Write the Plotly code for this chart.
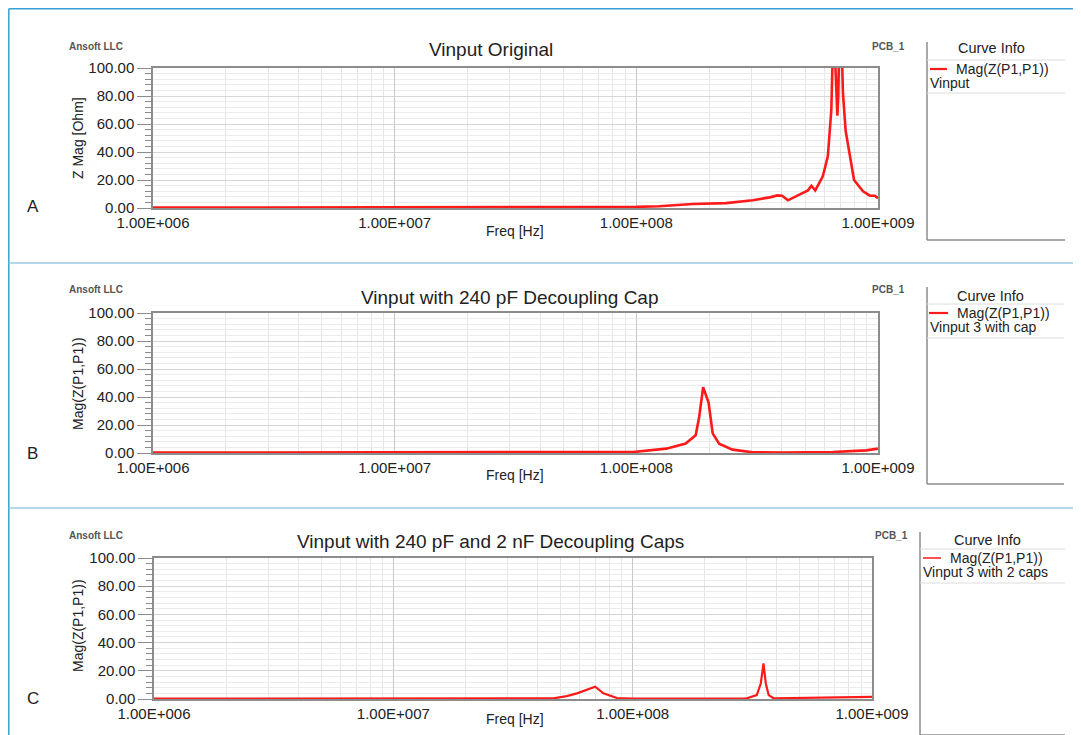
import plotly.graph_objects as go

# page body has an 8px margin: the figure is drawn 8px smaller and all
# reference pixel positions are shifted by OFF
OFF = 8
W, H = 1081 - OFF, 735 - OFF

# ---------------- data ----------------
freq_ticks = [1e6, 1e7, 1e8, 1e9]
freq_tick_labels = ["1.00E+006", "1.00E+007", "1.00E+008", "1.00E+009"]
mag_ticks = [0, 20, 40, 60, 80, 100]
mag_tick_labels = ["0.00", "20.00", "40.00", "60.00", "80.00", "100.00"]

a_freq = [1e6, 3e6, 1e7, 3e7, 6e7, 1.0e8, 1.24e8, 1.71e8, 2.35e8, 3.03e8, 3.56e8,
          3.84e8, 4.01e8, 4.24e8, 4.73e8, 5.13e8, 5.3e8, 5.5e8, 5.91e8, 6.2e8,
          6.41e8, 6.5e8, 6.55e8, 6.65e8, 6.73e8, 6.79e8, 6.85e8, 6.89e8, 6.95e8,
          7.08e8, 7.16e8, 7.35e8, 7.64e8, 7.96e8, 8.67e8, 9.25e8, 9.7e8, 1e9]
a_mag = [0.3, 0.3, 0.35, 0.45, 0.6, 0.8, 1.2, 2.9, 3.5, 5.5, 7.6,
         9.0, 8.8, 5.5, 9.5, 12.6, 15.9, 12.6, 22.6, 36.9,
         70, 100, 135, 105, 75, 66, 80, 100, 140,
         115, 82, 55, 37, 20, 11.9, 8.8, 8.8, 7.0]

b_freq = [1e6, 1e7, 4.1e7, 9.7e7, 1.33e8, 1.6e8, 1.76e8, 1.82e8, 1.89e8, 1.99e8,
          2.07e8, 2.2e8, 2.5e8, 3.03e8, 4.03e8, 6.5e8, 8.95e8, 1e9]
b_mag = [0.3, 0.3, 0.3, 0.7, 3.1, 6.7, 12.6, 25.7, 47, 36,
         14, 6.7, 2.4, 0.5, 0.3, 0.7, 1.9, 3.1]

c_freq = [1e6, 1e7, 4.67e7, 5.3e7, 5.85e7, 6.97e7, 7.55e7, 8.6e7, 1e8, 3e8,
          3.3e8, 3.43e8, 3.52e8, 3.6e8, 3.7e8, 3.88e8, 8.4e8, 1e9]
c_mag = [0.3, 0.3, 0.5, 2.0, 4.0, 8.7, 4.0, 0.7, 0.3, 0.5,
         2.8, 11, 25.2, 11, 2.8, 0.5, 1.0, 1.5]

panel_titles = ["Vinput Original", "Vinput with 240 pF Decoupling Cap",
                "Vinput with 240 pF and 2 nF Decoupling Caps"]
y_titles = ["Z Mag [Ohm]", "Mag(Z(P1,P1))", "Mag(Z(P1,P1))"]
curve_names = ["Mag(Z(P1,P1))", "Mag(Z(P1,P1))", "Mag(Z(P1,P1))"]
curve_desc = ["Vinput", "Vinput 3 with cap", "Vinput 3 with 2 caps"]
panel_letters = ["A", "B", "C"]

# ---------------- layout helpers ----------------
def px(x):
    return (x - OFF) / W

def py(y):
    return 1 - (y - OFF) / H

FONT = "Liberation Sans, Arial, sans-serif"
TXT = "#222222"
RED = "#ff1a1a"
AX = "#8c8c8c"

# plot rectangles in page pixels: (x0, x1, ytop, ybottom)
rects = [(153, 878, 68, 208), (153, 878, 313, 453), (154, 872, 558, 699)]

minor_freq = [m * 10 ** e for e in range(6, 9) for m in range(2, 10)]

fig = go.Figure()
series = [(a_freq, a_mag, 2.6), (b_freq, b_mag, 2.6), (c_freq, c_mag, 2.2)]
for i, (fx, fy, lw) in enumerate(series):
    sfx = "" if i == 0 else str(i + 1)
    fig.add_trace(go.Scatter(x=fx, y=fy, mode="lines",
                             line=dict(color=RED, width=lw),
                             xaxis="x" + sfx, yaxis="y" + sfx,
                             showlegend=False, hoverinfo="skip"))

layout = dict(width=W, height=H, paper_bgcolor="white", plot_bgcolor="white",
              margin=dict(l=0, r=0, t=0, b=0, pad=0, autoexpand=False),
              showlegend=False,
              font=dict(family=FONT, color=TXT))

for i, (x0, x1, yt, yb) in enumerate(rects):
    sfx = "" if i == 0 else str(i + 1)
    layout["xaxis" + sfx] = dict(
        type="log", range=[6, 9], domain=[px(x0), px(x1)],
        anchor="y" + sfx, automargin=False,
        tickvals=freq_ticks, ticktext=freq_tick_labels,
        tickfont=dict(size=15, color=TXT, family=FONT),
        showgrid=True, gridcolor="#c8c8c8", gridwidth=1,
        minor=dict(tickvals=minor_freq, showgrid=True, gridcolor="#e6e6e6", ticks=""),
        showline=True, mirror=True, linecolor=AX, linewidth=1.5,
        ticks="", zeroline=False, fixedrange=True)
    layout["yaxis" + sfx] = dict(
        range=[0, 100], domain=[py(yb), py(yt)], anchor="x" + sfx, automargin=False,
        tickvals=mag_ticks, ticktext=mag_tick_labels,
        tickfont=dict(size=15, color=TXT, family=FONT),
        ticks="outside", ticklen=14, tickcolor=AX, tickwidth=1.2,
        showgrid=True, gridcolor="#d6d6d6", gridwidth=1,
        minor=dict(dtick=4, tick0=0, ticks="outside", ticklen=6, tickcolor=AX,
                   showgrid=True, gridcolor="#ececec"),
        showline=True, mirror=True, linecolor=AX, linewidth=1.5,
        zeroline=False, fixedrange=True)

annotations = []
shapes = []

def text(x, y, s, size=14, xanchor="center", yanchor="middle", color=TXT, angle=0, bold=False):
    if bold:
        s = "<b>" + s + "</b>"
    annotations.append(dict(x=px(x), y=py(y), xref="paper", yref="paper", text=s,
                            showarrow=False, xanchor=xanchor, yanchor=yanchor,
                            textangle=angle, font=dict(size=size, color=color, family=FONT)))

def line(x0, y0, x1, y1, color, width):
    shapes.append(dict(type="line", xref="paper", yref="paper",
                       x0=px(x0), y0=py(y0), x1=px(x1), y1=py(y1),
                       line=dict(color=color, width=width)))

# outer frame
line(8.8, 8.8, 1081, 8.8, "#3aa0d4", 1.5)
line(8.8, 8.8, 8.8, 735, "#3aa0d4", 1.5)
line(8.8, 263, 1081, 263, "#9ccbe2", 1.5)
line(8.8, 508, 1081, 508, "#9ccbe2", 1.5)

# per-panel decorations
title_pos = [(491, 50), (510, 297), (490, 541)]
ytitle_pos = [(78, 138), (78, 383), (78, 625)]
freq_pos = [(515, 231), (515, 475), (515, 719)]
ansoft_pos = [(67, 46), (67, 290), (67, 535)]
pcb_pos = [(888, 47), (888, 290), (891, 535)]
letter_pos = [(33, 206), (32, 453), (33, 698)]
# legend box: (vx, ytop, ybottom, line1, line2, header_y, xright, red x0, red x1)
legend = [(927, 42, 240, 60, 93, 48, 1065, 930, 947),
          (927, 287, 484, 304, 338, 296, 1064, 929, 948),
          (920, 532, 735, 549, 583, 540, 1065, 923, 941)]

for i in range(3):
    text(*title_pos[i], panel_titles[i], size=19)
    text(*ytitle_pos[i], y_titles[i], size=14, angle=-90)
    text(*freq_pos[i], "Freq [Hz]", size=14)
    text(ansoft_pos[i][0], ansoft_pos[i][1], "Ansoft LLC", size=10, xanchor="left",
         color="#555555", bold=True)
    text(*pcb_pos[i], "PCB_1", size=10, color="#555555", bold=True)
    text(*letter_pos[i], panel_letters[i], size=17)

    vx, ytop, ybot, l1, l2, hy, xr, r0, r1 = legend[i]
    line(vx, ytop, vx, ybot, "#8c8c8c", 1.5)
    line(vx, ybot, xr, ybot, "#8c8c8c", 1.5)
    line(vx, l1, xr, l1, "#dcdcdc", 1)
    line(vx, l2, xr, l2, "#dcdcdc", 1)
    text((vx + xr) / 2 - 5, hy, "Curve Info", size=14.5)
    ry = l1 + 9
    line(r0, ry, r1, ry, RED, 2.2 if i < 2 else 1.5)
    text(r1 + 7, ry, curve_names[i], size=14, xanchor="left")
    text(vx + 1, ry + 14, curve_desc[i], size=14, xanchor="left")

layout["annotations"] = annotations
layout["shapes"] = shapes
fig.update_layout(**layout)
fig.write_html("out.html")
